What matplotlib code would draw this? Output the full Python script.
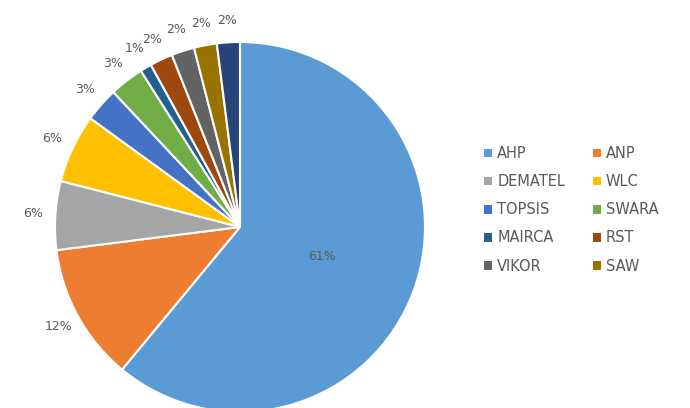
import matplotlib.pyplot as plt
from matplotlib.patches import Patch
import numpy as np

methods = ["AHP", "ANP", "DEMATEL", "WLC", "TOPSIS", "SWARA",
           "MAIRCA", "RST", "VIKOR", "SAW", "Other"]
shares = [61, 12, 6, 6, 3, 3, 1, 2, 2, 2, 2]
colors = ["#5B9BD5", "#ED7D31", "#A5A5A5", "#FFC000", "#4472C4", "#70AD47",
          "#255E91", "#9E480E", "#636363", "#997300", "#264478"]

fig = plt.figure(figsize=(6.9, 4.08), dpi=100)
ax = fig.add_axes([0, 0, 1, 1])

wedges, _ = ax.pie(shares, colors=colors, startangle=90, counterclock=False,
                   wedgeprops=dict(edgecolor="white", linewidth=1.5))

R = 185.0  # pixels per unit radius
cx, cy = 240.0, 227.0
ax.set_aspect("auto")
ax.set_xlim(-cx / R, (690 - cx) / R)
ax.set_ylim(-(408 - cy) / R, cy / R)
ax.axis("off")

for w, v in zip(wedges, shares):
    ang = np.deg2rad((w.theta1 + w.theta2) / 2)
    d = 0.47 if v > 50 else 1.12
    ax.text(d * np.cos(ang), d * np.sin(ang), f"{v}%", ha="center", va="center",
            fontsize=9, color="#595959")

# legend filled row by row: matplotlib fills columns, so reorder
order = [0, 2, 4, 6, 8, 1, 3, 5, 7, 9]
handles = [Patch(facecolor=colors[i], edgecolor="none") for i in order]
labels = [methods[i] for i in order]
fig.legend(handles, labels, ncol=2, loc="upper left",
           bbox_to_anchor=(471 / 690, 1 - 133 / 408), frameon=False,
           fontsize=10.5, labelcolor="#595959", handlelength=0.55,
           handleheight=0.55, handletextpad=0.35, labelspacing=0.9,
           columnspacing=1.9)

fig.savefig("out.png", dpi=100)
